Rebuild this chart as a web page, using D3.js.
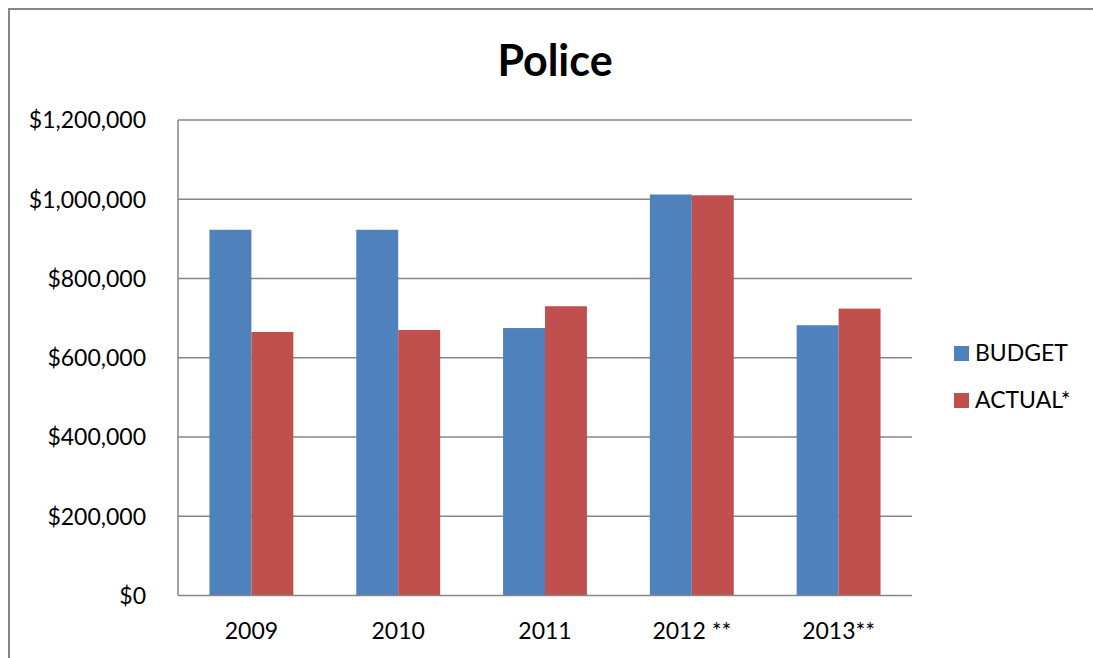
<!DOCTYPE html>
<html>
<head>
<meta charset="utf-8">
<script src="https://cdn.jsdelivr.net/npm/d3@7"></script>
<style>
  html, body { margin: 0; padding: 0; background: #fff; }
  svg { display: block; }
  text { font-family: Lato, "Open Sans", sans-serif; fill: #000; }
</style>
</head>
<body>
<svg id="chart" width="1093" height="658"></svg>
<script>
const categories = ["2009", "2010", "2011", "2012 **", "2013**"];
const seriesNames = ["BUDGET", "ACTUAL*"];
const budget = [923000, 923000, 675000, 1012000, 682000];
const actual = [665000, 670000, 730000, 1010000, 724000];
const yTicks = [0, 200000, 400000, 600000, 800000, 1000000, 1200000];
const colors = ["#4F81BD", "#C0504D"];

const svg = d3.select("#chart");
const W = 1093, H = 658;
const plot = { left: 178, right: 912, top: 120, bottom: 595.5 };

// chart border (top and left visible)
svg.append("path")
  .attr("d", `M9,${H + 10} L9,9 L${W + 10},9`)
  .attr("fill", "none").attr("stroke", "#868686").attr("stroke-width", 2);

// title
svg.append("text")
  .attr("x", 555).attr("y", 76)
  .attr("text-anchor", "middle")
  .attr("font-size", 43).attr("font-weight", "bold")
  .text("Police");

const x = d3.scaleBand().domain(categories).range([plot.left, plot.right]).paddingInner(0).paddingOuter(0);
const groupW = x.bandwidth() * (2 / 3.5);
const x1 = d3.scaleBand().domain(seriesNames).range([0, groupW]).padding(0);
const y = d3.scaleLinear().domain([0, 1200000]).range([plot.bottom, plot.top]);

// gridlines
svg.append("g").selectAll("line").data(yTicks.filter(d => d > 0)).join("line")
  .attr("x1", plot.left).attr("x2", plot.right)
  .attr("y1", d => y(d)).attr("y2", d => y(d))
  .attr("stroke", "#868686").attr("stroke-width", 1.5);

// y labels
const fmt = d => "$" + d3.format(",")(d);
svg.append("g").selectAll("text").data(yTicks).join("text")
  .attr("x", 146).attr("y", d => y(d))
  .attr("dy", "0.36em")
  .attr("text-anchor", "end")
  .attr("font-size", 23)
  .text(fmt);

// bars
const data = categories.map((c, i) => ({ cat: c, vals: [budget[i], actual[i]] }));
const groups = svg.append("g").selectAll("g").data(data).join("g")
  .attr("transform", d => `translate(${x(d.cat) + (x.bandwidth() - groupW) / 2},0)`);
groups.selectAll("rect").data(d => d.vals.map((v, j) => ({ v, j }))).join("rect")
  .attr("x", d => x1(seriesNames[d.j]))
  .attr("width", x1.bandwidth())
  .attr("y", d => y(d.v))
  .attr("height", d => y(0) - y(d.v))
  .attr("fill", d => colors[d.j]);

// axes lines
svg.append("line").attr("x1", plot.left).attr("x2", plot.left)
  .attr("y1", plot.top).attr("y2", plot.bottom)
  .attr("stroke", "#868686").attr("stroke-width", 1.5);
svg.append("line").attr("x1", plot.left).attr("x2", plot.right)
  .attr("y1", plot.bottom).attr("y2", plot.bottom)
  .attr("stroke", "#868686").attr("stroke-width", 1.5);

// x labels
svg.append("g").selectAll("text").data(categories).join("text")
  .attr("x", d => x(d) + x.bandwidth() / 2)
  .attr("y", 639)
  .attr("text-anchor", "middle")
  .attr("font-size", 23)
  .text(d => d);

// legend
const leg = svg.append("g").selectAll("g").data(seriesNames).join("g")
  .attr("transform", (d, i) => `translate(954,${353 + i * 47})`);
leg.append("rect").attr("x", 0).attr("y", -7).attr("width", 15).attr("height", 15)
  .attr("fill", (d, i) => colors[i]);
leg.append("text").attr("x", 21).attr("y", 0).attr("dy", "0.36em")
  .attr("font-size", 23).text(d => d);
</script>
</body>
</html>
